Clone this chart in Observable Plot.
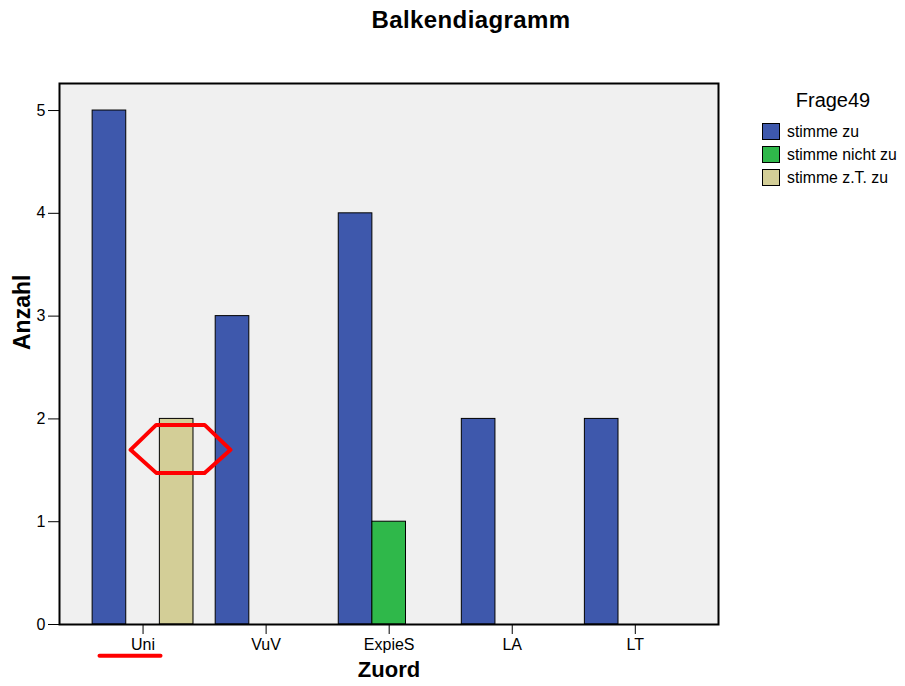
<!DOCTYPE html>
<html>
<head>
<meta charset="utf-8">
<script src="https://cdn.jsdelivr.net/npm/d3@7"></script>
<script src="https://cdn.jsdelivr.net/npm/@observablehq/plot@0.6"></script>
<style>
  html, body { margin: 0; padding: 0; background: #fff; }
  body { width: 905px; height: 686px; position: relative; font-family: "Liberation Sans", Arial, sans-serif; }
  #title { position: absolute; left: 0; width: 942px; top: 8px; text-align: center; font-weight: bold; font-size: 24px; letter-spacing: 0.4px; line-height: 24px; color: #000; }
  #legend { position: absolute; left: 762px; top: 90px; color: #000; }
  #legend .lt { position: absolute; left: 0; width: 142px; text-align: center; top: 0; font-size: 20px; line-height: 20px; white-space: nowrap; }
  #legend .item { position: absolute; left: 0; height: 17px; white-space: nowrap; font-size: 15.8px; line-height: 17px; }
  #legend .sw { position: absolute; left: 0; top: 0; width: 16px; height: 15px; border: 1px solid #000; }
  #legend .tx { position: absolute; left: 25px; top: 0; }
  #chart { position: absolute; left: 0; top: 0; }
</style>
</head>
<body>
<div id="chart"></div>
<div id="title">Balkendiagramm</div>
<div id="legend"></div>
<script>
// ---- data ----
const categories = ["Uni", "VuV", "ExpieS", "LA", "LT"];
const seriesNames = ["stimme zu", "stimme nicht zu", "stimme z.T. zu"];
const stimmeZu = [5, 3, 4, 2, 2];
const stimmeNichtZu = [0, 0, 1, 0, 0];
const stimmeZTZu = [2, 0, 0, 0, 0];
const seriesColors = ["#3e58ac", "#2fb84a", "#d3ce97"];
const legendTitle = "Frage49";
const xLabel = "Zuord";
const yLabel = "Anzahl";
// red hand-drawn annotations (in data units: group index, count)
const annotHexX = [-0.102, 0.107, 0.500, 0.711, 0.500, 0.107, -0.102];
const annotHexY = [1.699, 1.942, 1.942, 1.699, 1.475, 1.475, 1.699];
const annotLineX = [-0.354, 0.142];
const annotLineY = [-0.304, -0.304];

// ---- build table ----
const seriesValues = [stimmeZu, stimmeNichtZu, stimmeZTZu];
const slot = 0.2732;
const rows = [];
categories.forEach((c, gi) => {
  seriesValues.forEach((vals, si) => {
    if (vals[gi] > 0) rows.push({cat: c, gi, si, series: seriesNames[si], value: vals[gi]});
  });
});
const hex = annotHexX.map((x, i) => ({x, y: annotHexY[i]}));
const uline = annotLineX.map((x, i) => ({x, y: annotLineY[i]}));

const chart = Plot.plot({
  width: 905,
  height: 686,
  marginLeft: 59,
  marginRight: 187,
  marginTop: 83,
  marginBottom: 62,
  style: {fontFamily: "Liberation Sans, Arial, sans-serif", fontSize: "16px", color: "#000", background: "transparent"},
  x: {type: "linear", domain: [-0.679, 4.676], ticks: 5, tickFormat: d => categories[Math.round(d)] ?? "", tickSize: 10, tickPadding: 4, label: null},
  y: {domain: [0, 5.263], ticks: 5, tickFormat: d => String(d), tickSize: 11, tickPadding: 3, label: null},
  color: {domain: seriesNames, range: seriesColors},
  marks: [
    Plot.frame({fill: "#f0f0f0", stroke: null}),
    Plot.rectY(rows, {
      x1: d => d.gi + (d.si - 1.5) * slot,
      x2: d => d.gi + (d.si - 0.5) * slot,
      y1: 0,
      y2: "value",
      fill: "series",
      stroke: "#000",
      strokeWidth: 1
    }),
    Plot.frame({stroke: "#000", strokeWidth: 2}),
    Plot.line(hex, {x: "x", y: "y", stroke: "red", strokeWidth: 4, clip: false}),
    Plot.line(uline, {x: "x", y: "y", stroke: "red", strokeWidth: 4, clip: false}),
    Plot.text([xLabel], {frameAnchor: "bottom", dy: 52, text: d => d, fontWeight: "bold", fontSize: 22}),
    Plot.text([yLabel], {frameAnchor: "left", dx: -37, dy: -4, text: d => d, rotate: -90, fontWeight: "bold", fontSize: 23})
  ]
});
document.getElementById("chart").appendChild(chart);

// ---- legend ----
const lg = document.getElementById("legend");
const lt = document.createElement("div");
lt.className = "lt";
lt.textContent = legendTitle;
lg.appendChild(lt);
seriesNames.forEach((s, i) => {
  const it = document.createElement("div");
  it.className = "item";
  it.style.top = (33 + i * 23) + "px";
  const sw = document.createElement("div");
  sw.className = "sw";
  sw.style.background = seriesColors[i];
  const tx = document.createElement("div");
  tx.className = "tx";
  tx.textContent = s;
  it.appendChild(sw);
  it.appendChild(tx);
  lg.appendChild(it);
});
</script>
</body>
</html>
